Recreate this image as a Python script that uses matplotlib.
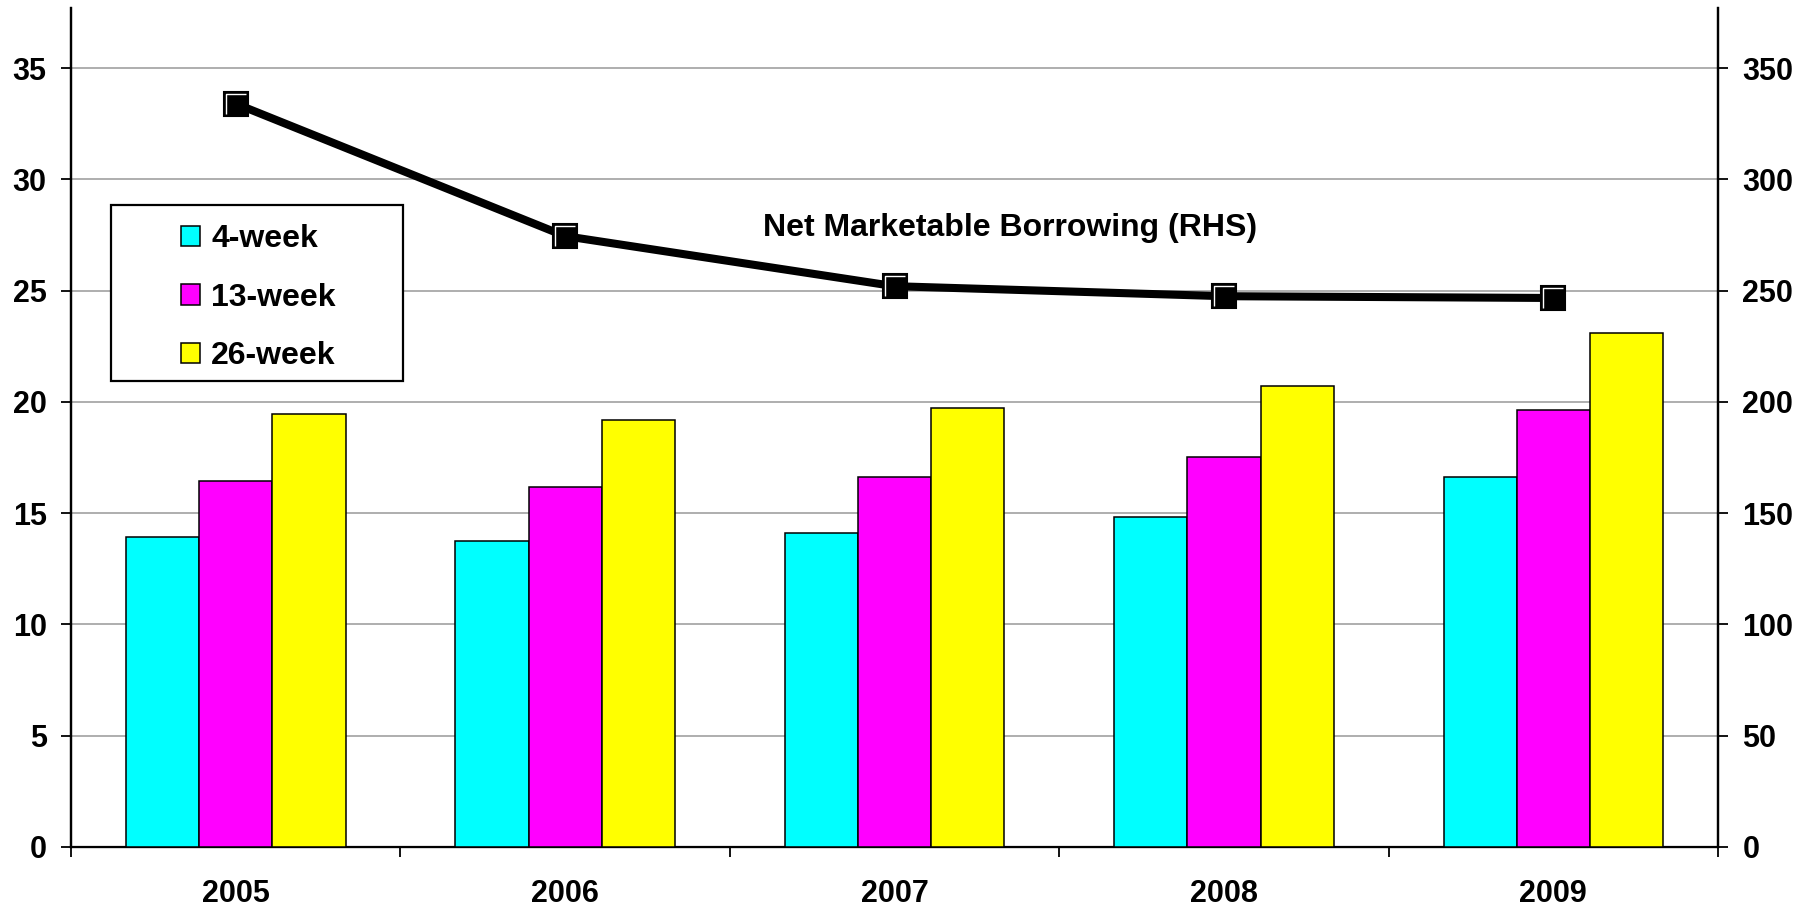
import matplotlib
matplotlib.use("Agg")
import matplotlib.pyplot as plt
from matplotlib.patches import Rectangle
from matplotlib.path import Path

plt.rcParams['font.family'] = ['Liberation Sans', 'DejaVu Sans']
plt.rcParams['font.weight'] = 'bold'

years = ['2005', '2006', '2007', '2008', '2009']
week4 = [13.92, 13.74, 14.09, 14.81, 16.62]
week13 = [16.44, 16.17, 16.63, 17.54, 19.63]
week26 = [19.45, 19.18, 19.71, 20.70, 23.10]
net_borrowing = [334.0, 274.5, 252.0, 247.5, 246.7]

series_names = ['4-week', '13-week', '26-week']
series_colors = ['#00FFFF', '#FF00FF', '#FFFF00']

W, H = 1817, 910
fig = plt.figure(figsize=(W / 100, H / 100), dpi=100)
ax = fig.add_axes([71 / W, 1 - 847 / H, (1718 - 71) / W, (847 - 8) / H])

x = list(range(len(years)))
bw = 2 / 9
bars = []
for k, (vals, col) in enumerate(zip([week4, week13, week26], series_colors)):
    pos = [xi + (k - 1) * bw for xi in x]
    b = ax.bar(pos, vals, width=bw, color=col, edgecolor='black', linewidth=1.1, zorder=3)
    bars.append(b)

ax.set_xlim(-0.5, 4.5)
ax.set_ylim(0, 37.7)
ax.set_yticks(range(0, 36, 5))
ax.grid(axis='y', color='#999999', linewidth=1.1, zorder=0)
ax.set_axisbelow(True)

# ticks between year groups, labels at group centres
ax.set_xticks([i - 0.5 for i in range(6)])
ax.set_xticklabels([])
ax.set_xticks(x, minor=True)
ax.set_xticklabels(years, minor=True)
ax.tick_params(axis='x', which='major', length=7.5, width=1.3, direction='out')
ax.tick_params(axis='x', which='minor', length=0, pad=23, labelsize=22)
ax.tick_params(axis='y', length=7.5, width=1.3, direction='out', pad=10, labelsize=22)

for s in ['left', 'bottom', 'right']:
    ax.spines[s].set_linewidth(1.6)
ax.spines['top'].set_visible(False)

ax2 = ax.twinx()
ax2.set_ylim(0, 377)
ax2.set_yticks(range(0, 351, 50))
ax2.tick_params(axis='y', length=7.5, width=1.3, direction='out', pad=10, labelsize=22)
ax2.spines['top'].set_visible(False)
ax2.spines['right'].set_linewidth(1.6)
ax2.spines['left'].set_linewidth(1.6)

ax2.plot(x, net_borrowing, color='black', linewidth=5.8, zorder=4,
         marker='s', markersize=17, markerfacecolor='black', markeredgecolor='black',
         markeredgewidth=1.5)
# white bevel on top and left edges of each marker
bevel = Path([(-0.5, -0.5), (-0.5, 0.5), (0.5, 0.5)], [Path.MOVETO, Path.LINETO, Path.LINETO])
ax2.plot(x, net_borrowing, linestyle='none', zorder=5, marker=bevel, markersize=15,
         markerfacecolor='none', markeredgecolor='white', markeredgewidth=1.0)

ax2.text(2.35, 278, 'Net Marketable Borrowing (RHS)', ha='center', va='center',
         fontsize=23, fontweight='bold')

# legend box
box = Rectangle((110.6 / W, 1 - 380.7 / H), (403 - 110.6) / W, (380.7 - 204.7) / H,
                transform=fig.transFigure, facecolor='white', edgecolor='black',
                linewidth=1.6, zorder=2)
fig.patches.append(box)

leg = fig.legend([b[0] for b in bars], series_names, loc='upper left',
                 bbox_to_anchor=(181 / W, 1 - 224 / H), frameon=False,
                 fontsize=23, handlelength=0.6, handleheight=0.6, handletextpad=0.35,
                 labelspacing=0.9, borderpad=0, borderaxespad=0)
leg.set_zorder(6)

fig.savefig('out.png', dpi=100, facecolor='white')
